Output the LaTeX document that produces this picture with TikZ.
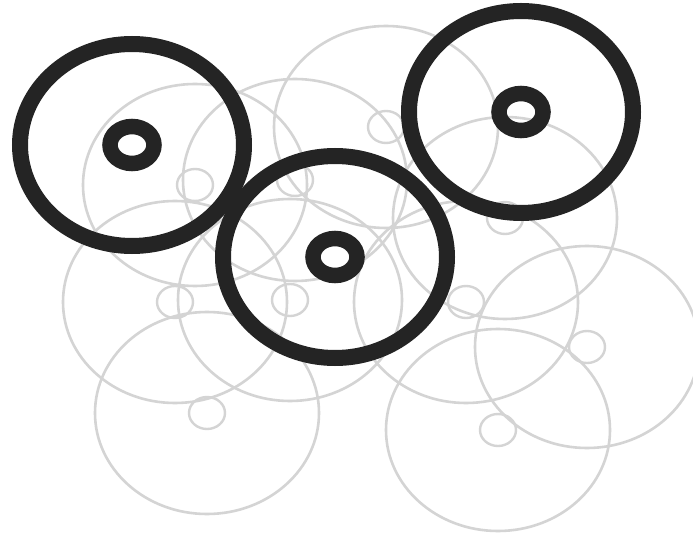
\documentclass[tikz,border=0pt]{standalone}
\begin{document}
\begin{tikzpicture}[x=1pt,y=-1pt,
  grayring/.style={draw=black!17,line width=2.6pt},
  grayhole/.style={draw=black!17,line width=2.4pt},
  darkring/.style={draw=black!86,line width=16pt},
  darkhole/.style={draw=black!86,line width=15.5pt}]
\useasboundingbox (0,0) rectangle (693,537);
\fill[white] (0,0) rectangle (693,537);
% gray rings
\foreach \cx/\cy in {386/127,505/218,587/347,498/430,207/413,175/302,466/302,195/185,295/180,290/300}{
  \draw[grayring] (\cx,\cy) ellipse [x radius=112, y radius=101];
  \draw[grayhole] (\cx,\cy) ellipse [x radius=18, y radius=16];
}
% dark rings
\foreach \cx/\cy in {132/145,521/112,335/257}{
  \draw[darkring] (\cx,\cy) ellipse [x radius=112, y radius=101];
  \draw[darkhole] (\cx,\cy) ellipse [x radius=22, y radius=18.5];
}
\end{tikzpicture}
\end{document}
